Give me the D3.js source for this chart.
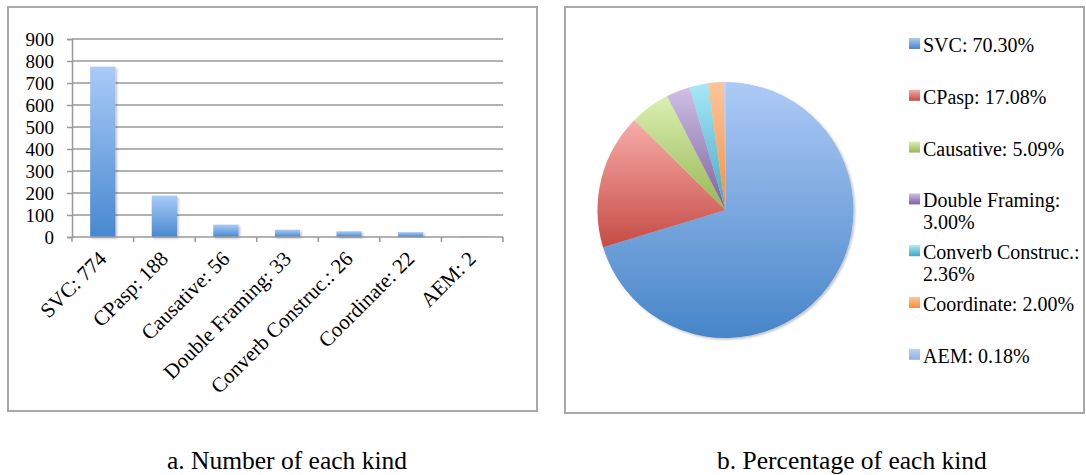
<!DOCTYPE html>
<html>
<head>
<meta charset="utf-8">
<script src="https://cdn.jsdelivr.net/npm/d3@7"></script>
<style>
  body { margin: 0; background: #fff; }
  svg { display: block; }
  text { font-family: "Liberation Serif", "Times New Roman", serif; }
</style>
</head>
<body>
<svg id="chart" width="1086" height="475"></svg>
<script>
// data
const categories = ["SVC", "CPasp", "Causative", "Double Framing", "Converb Construc.", "Coordinate", "AEM"];
const counts = [774, 188, 56, 33, 26, 22, 2];
const percents = [70.30, 17.08, 5.09, 3.00, 2.36, 2.00, 0.18];
const yTicks = [0, 100, 200, 300, 400, 500, 600, 700, 800, 900];
const wrapped = [false, false, false, true, true, false, false];   // legend entries on two lines
const sliceColors = [
  ["#aecaf6", "#4685c8"],
  ["#f8aca8", "#c54b45"],
  ["#daefb2", "#97b853"],
  ["#cfc0e6", "#7e5fa1"],
  ["#a8e8f8", "#44a7c2"],
  ["#fdc59b", "#f68f3d"],
  ["#bcd3f4", "#8fb0e2"]
];
const captions = ["a. Number of each kind", "b. Percentage of each kind"];

const FONT = "Liberation Serif";
const svg = d3.select("#chart").attr("font-family", FONT);
const defs = svg.append("defs");

// gradients
const barGrad = defs.append("linearGradient")
    .attr("id", "barGrad").attr("x1", 0).attr("y1", 0).attr("x2", 0).attr("y2", 1);
barGrad.append("stop").attr("offset", "0%").attr("stop-color", "#a9cbf8");
barGrad.append("stop").attr("offset", "100%").attr("stop-color", "#4788cf");

sliceColors.forEach((c, i) => {
  const g = defs.append("linearGradient")
      .attr("id", "slice" + i).attr("x1", 0).attr("y1", 0).attr("x2", 0).attr("y2", 1);
  g.append("stop").attr("offset", "0%").attr("stop-color", c[0]);
  g.append("stop").attr("offset", "100%").attr("stop-color", c[1]);
});

const shadow = defs.append("filter").attr("id", "shadow")
    .attr("x", "-10%").attr("y", "-10%").attr("width", "130%").attr("height", "130%");
shadow.append("feDropShadow").attr("dx", 1.5).attr("dy", 1.5)
    .attr("stdDeviation", 1.2).attr("flood-color", "#000").attr("flood-opacity", 0.25);

// panel frames
svg.append("rect").attr("x", 8).attr("y", 7).attr("width", 529).attr("height", 404)
   .attr("fill", "none").attr("stroke", "#a9a9a9").attr("stroke-width", 2);
svg.append("rect").attr("x", 565).attr("y", 7).attr("width", 519).attr("height", 406)
   .attr("fill", "none").attr("stroke", "#a9a9a9").attr("stroke-width", 2);

// ---- bar chart ----
const plot = { left: 72, right: 503, top: 39, bottom: 237 };

const x = d3.scaleBand()
            .domain(categories)
            .range([plot.left, plot.right]);

const y = d3.scaleLinear()
            .domain([0, 900])
            .range([plot.bottom, plot.top]);

// gridlines
svg.append("g")
   .selectAll("line")
   .data(yTicks.filter(d => d > 0))
   .enter()
   .append("line")
   .attr("x1", plot.left)
   .attr("x2", plot.right)
   .attr("y1", d => y(d))
   .attr("y2", d => y(d))
   .attr("stroke", "#999")
   .attr("stroke-width", 1.5);

// y axis
const yAxis = svg.append("g")
   .attr("transform", `translate(${plot.left},0)`)
   .call(d3.axisLeft(y).tickValues(yTicks).tickSize(5).tickPadding(13));
yAxis.select(".domain").attr("stroke", "#999").attr("stroke-width", 1.5);
yAxis.selectAll(".tick line").attr("stroke", "#999").attr("stroke-width", 1.5);
yAxis.selectAll(".tick text")
     .attr("fill", "#000")
     .attr("dy", "0.35em")
     .attr("font-family", FONT)
     .attr("font-size", 19)
     .style("font-size", "19px");

// bars
const barW = x.bandwidth() * 0.41;
svg.append("g")
   .selectAll("rect")
   .data(categories)
   .enter()
   .append("rect")
   .attr("x", d => x(d) + x.bandwidth() / 2 - barW / 2)
   .attr("y", (d, i) => y(counts[i]))
   .attr("width", barW)
   .attr("height", (d, i) => plot.bottom - y(counts[i]))
   .attr("fill", "url(#barGrad)")
   .attr("filter", "url(#shadow)");

// x axis
const xAxis = svg.append("g")
   .attr("transform", `translate(0,${plot.bottom})`);
xAxis.append("line")
     .attr("x1", plot.left).attr("x2", plot.right)
     .attr("stroke", "#999").attr("stroke-width", 1.5);
xAxis.selectAll(".xtick")
     .data(categories.map(d => x(d)).concat([plot.right]))
     .enter()
     .append("line")
     .attr("x1", d => d)
     .attr("x2", d => d)
     .attr("y1", 0).attr("y2", 5)
     .attr("stroke", "#999").attr("stroke-width", 1.5);

xAxis.selectAll(".xlabel")
     .data(categories)
     .enter()
     .append("text")
     .attr("transform", d => `translate(${x(d) + x.bandwidth() / 2 + 5},23) rotate(-45)`)
     .attr("text-anchor", "end")
     .attr("font-size", 21)
     .attr("fill", "#000")
     .text((d, i) => `${d}: ${counts[i]}`);

// ---- pie chart ----
const cx = 725.5, cy = 210, r = 128;
const pie = d3.pie().sort(null).value(d => d)(percents);
const arc = d3.arc().innerRadius(0).outerRadius(r);

svg.append("g")
   .attr("transform", `translate(${cx},${cy})`)
   .attr("filter", "url(#shadow)")
   .selectAll("path")
   .data(pie)
   .enter()
   .append("path")
   .attr("d", arc)
   .attr("fill", (d, i) => `url(#slice${i})`);

// legend
const fmt = d3.format(".2f");
const legend = svg.append("g").attr("transform", "translate(909,52)");
categories.forEach((c, i) => {
  const lines = wrapped[i] ? [c + ":", fmt(percents[i]) + "%"] : [`${c}: ${fmt(percents[i])}%`];
  const gy = i * 51.8;
  legend.append("rect")
        .attr("x", 0)
        .attr("y", gy - 14)
        .attr("width", 11)
        .attr("height", 11)
        .attr("fill", `url(#slice${i})`);
  const t = legend.append("text")
        .attr("font-size", 20)
        .attr("fill", "#000");
  lines.forEach((ln, j) => {
    t.append("tspan").attr("x", 14).attr("y", gy + j * 22).text(ln);
  });
});

// captions
svg.selectAll(".caption")
   .data(captions)
   .enter()
   .append("text")
   .attr("x", (d, i) => i === 0 ? 287 : 852)
   .attr("y", 469)
   .attr("text-anchor", "middle")
   .attr("font-size", 25.5)
   .attr("fill", "#000")
   .text(d => d);
</script>
</body>
</html>
